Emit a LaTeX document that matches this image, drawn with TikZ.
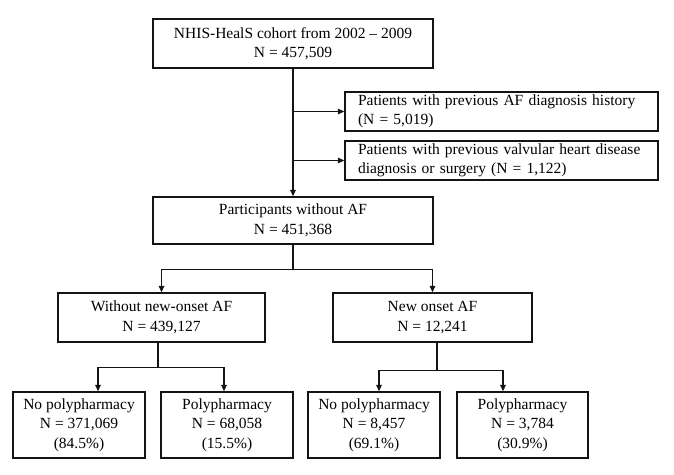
\documentclass[tikz,border=0pt]{standalone}
\usepackage{fontspec}
\setmainfont{Liberation Serif}
\usetikzlibrary{arrows.meta,positioning}
\definecolor{flowline}{RGB}{20,20,20}

\begin{document}
\begin{tikzpicture}[x=1pt,y=1pt,
  box/.style={draw=flowline,line width=1.3pt,align=center,inner sep=2pt,font=\fontsize{15.5}{19.5}\selectfont},
  exbox/.style={draw=flowline,line width=1.3pt,align=left,text width=287pt,inner xsep=13pt,inner ysep=2pt,font=\fontsize{15.5}{19.5}\selectfont},
  link/.style={flowline,line width=1.3pt},
  arr/.style={link,-{Triangle[length=6.5pt,width=5.5pt]}}]
\useasboundingbox (0,0) rectangle (674,-474);
% Cohort and exclusions
\node[box,minimum width=280pt,minimum height=49pt] (cohort) at (293,-43.5) {NHIS-HealS cohort from 2002 -- 2009\\N = 457,509};
\node[exbox,minimum height=39pt] (exaf) at (501.5,-111.5) {Patients with previous AF diagnosis history\\(N = 5,019)};
\node[exbox,minimum height=39pt] (exvhd) at (501.5,-160.5) {Patients with previous valvular heart disease\\diagnosis or surgery (N = 1,122)};
\node[box,minimum width=280pt,minimum height=47pt] (noaf) at (293,-220.5) {Participants without AF\\N = 451,368};
% AF groups
\node[box,minimum width=207pt,minimum height=49pt] (without) at (161.5,-317.5) {Without new-onset AF\\N = 439,127};
\node[box,minimum width=199pt,minimum height=49pt] (onset) at (432.5,-317.5) {New onset AF\\N = 12,241};
% Polypharmacy groups
\node[box,minimum width=132pt,minimum height=66pt] (wnopoly) at (79,-425) {No polypharmacy\\N = 371,069\\(84.5\%)};
\node[box,minimum width=132pt,minimum height=66pt] (wpoly) at (227,-425) {Polypharmacy\\N = 68,058\\(15.5\%)};
\node[box,minimum width=132pt,minimum height=66pt] (onopoly) at (374,-425) {No polypharmacy\\N = 8,457\\(69.1\%)};
\node[box,minimum width=131pt,minimum height=66pt] (opoly) at (522.5,-425) {Polypharmacy\\N = 3,784\\(30.9\%)};
% Connectors
\draw[arr] (cohort.south) -- (noaf.north);
\draw[arr] (cohort.south |- exaf.west) -- (exaf.west);
\draw[arr] (cohort.south |- exvhd.west) -- (exvhd.west);
\draw[arr] (noaf.south) -- ++(0,-25) -| (without.north);
\draw[arr] (noaf.south) -- ++(0,-25) -| (onset.north);
\draw[arr] ([xshift=-3.5pt]without.south) -- ++(0,-25) -| ([xshift=19pt]wnopoly.north);
\draw[arr] ([xshift=-3.5pt]without.south) -- ++(0,-25) -| ([xshift=-3pt]wpoly.north);
\draw[arr] ([xshift=4.5pt]onset.south) -- ++(0,-28) -| ([xshift=5pt]onopoly.north);
\draw[arr] ([xshift=4.5pt]onset.south) -- ++(0,-28) -| ([xshift=-19.5pt]opoly.north);
\end{tikzpicture}
\end{document}
